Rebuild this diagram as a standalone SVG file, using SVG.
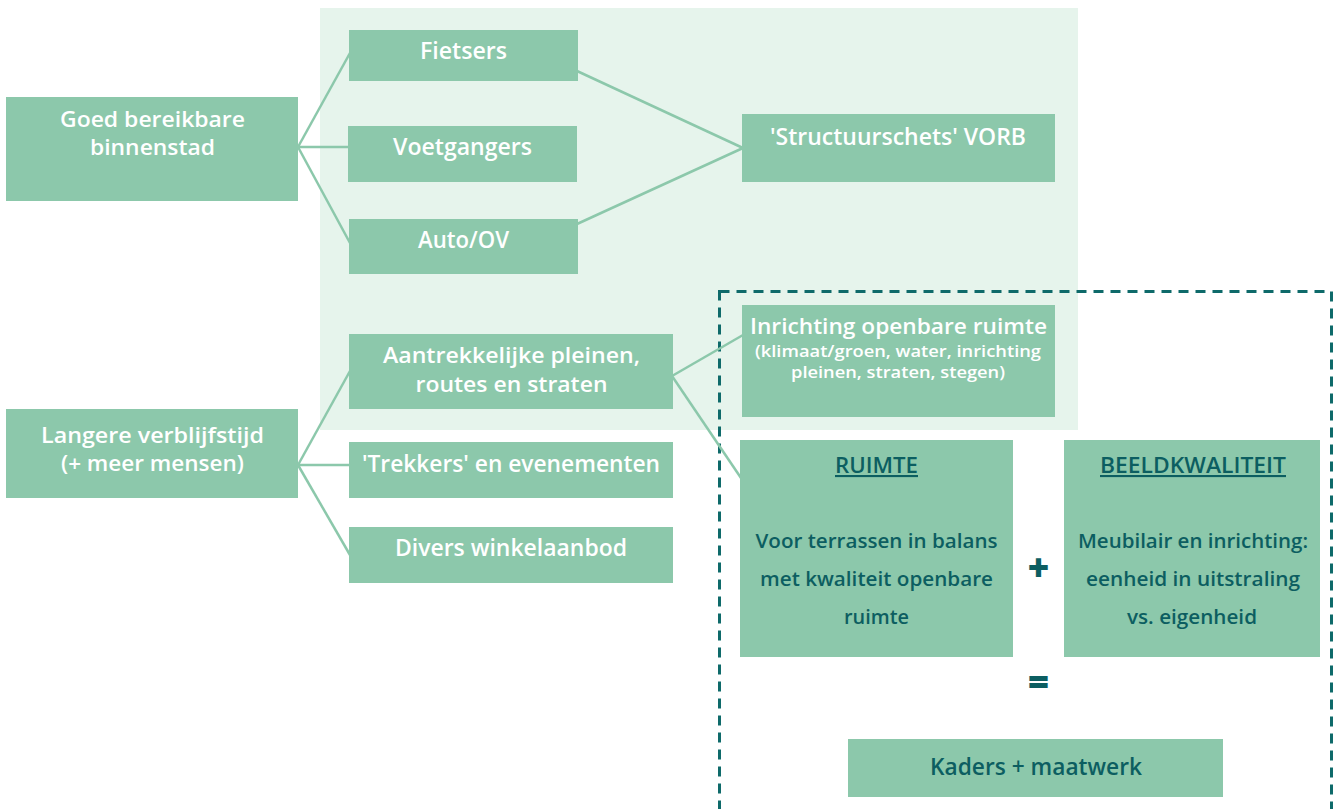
<svg xmlns="http://www.w3.org/2000/svg" width="1340" height="809" viewBox="0 0 1340 809">
<style>
.box{fill:#8cc8ab}
.t{font-family:"Open Sans","Noto Sans",sans-serif;font-weight:600;text-anchor:middle}
.w{fill:#ffffff}
.d{fill:#0c5e61}
.op{stroke:#0c5e61;stroke-width:2.2}
.c{stroke:#8cc8ab;stroke-width:2.5;fill:none}
</style>
<rect x="0" y="0" width="1340" height="809" fill="#ffffff"/>
<rect x="320" y="8" width="758" height="422" fill="#e6f4ec"/>
<rect x="719.5" y="291.5" width="612" height="540" fill="none" stroke="#0e6a6a" stroke-width="3" stroke-dasharray="10 7"/>
<g id="connectors">
<line class="c" x1="298" y1="147" x2="350" y2="53"/>
<line class="c" x1="298" y1="147" x2="350" y2="147"/>
<line class="c" x1="298" y1="147" x2="350" y2="243"/>
<line class="c" x1="577" y1="71" x2="743" y2="148"/>
<line class="c" x1="577" y1="224" x2="743" y2="148"/>
<line class="c" x1="298" y1="465" x2="350" y2="371"/>
<line class="c" x1="298" y1="465" x2="350" y2="465"/>
<line class="c" x1="298" y1="465" x2="350" y2="555"/>
<line class="c" x1="672" y1="376" x2="743" y2="335"/>
<line class="c" x1="672" y1="376" x2="741" y2="478"/>
</g>
<g id="goed">
<rect class="box" x="6" y="97" width="292" height="104"/>
<text class="t w" font-size="22" x="152.5" y="127" textLength="185" lengthAdjust="spacingAndGlyphs">Goed bereikbare</text>
<text class="t w" font-size="22" x="152.5" y="155" textLength="125" lengthAdjust="spacingAndGlyphs">binnenstad</text>
</g>
<g id="fietsers">
<rect class="box" x="349" y="30" width="229" height="51"/>
<text class="t w" font-size="23" x="463.5" y="59" textLength="87" lengthAdjust="spacingAndGlyphs">Fietsers</text>
</g>
<g id="voetgangers">
<rect class="box" x="348" y="126" width="229" height="56"/>
<text class="t w" font-size="23" x="462.5" y="155" textLength="139" lengthAdjust="spacingAndGlyphs">Voetgangers</text>
</g>
<g id="auto">
<rect class="box" x="349" y="219" width="229" height="55"/>
<text class="t w" font-size="23" x="463.5" y="248" textLength="91" lengthAdjust="spacingAndGlyphs">Auto/OV</text>
</g>
<g id="structuurschets">
<rect class="box" x="742" y="114" width="313" height="68"/>
<text class="t w" font-size="23" x="898" y="145" textLength="256" lengthAdjust="spacingAndGlyphs">'Structuurschets' VORB</text>
</g>
<g id="langere">
<rect class="box" x="6" y="409" width="292" height="89"/>
<text class="t w" font-size="22" x="152.5" y="443" textLength="223" lengthAdjust="spacingAndGlyphs">Langere verblijfstijd</text>
<text class="t w" font-size="22" x="152.5" y="471" textLength="183" lengthAdjust="spacingAndGlyphs">(+ meer mensen)</text>
</g>
<g id="aantrekkelijke">
<rect class="box" x="349" y="334" width="324" height="75"/>
<text class="t w" font-size="22" x="511.5" y="363" textLength="257" lengthAdjust="spacingAndGlyphs">Aantrekkelijke pleinen,</text>
<text class="t w" font-size="22" x="511.5" y="392" textLength="192" lengthAdjust="spacingAndGlyphs">routes en straten</text>
</g>
<g id="trekkers">
<rect class="box" x="349" y="442" width="324" height="56"/>
<text class="t w" font-size="23" x="511" y="472" textLength="298" lengthAdjust="spacingAndGlyphs">'Trekkers' en evenementen</text>
</g>
<g id="divers">
<rect class="box" x="349" y="527" width="324" height="56"/>
<text class="t w" font-size="23" x="511" y="556" textLength="232" lengthAdjust="spacingAndGlyphs">Divers winkelaanbod</text>
</g>
<g id="inrichting">
<rect class="box" x="742" y="305" width="313" height="112"/>
<text class="t w" font-size="22" x="898.5" y="334" textLength="297" lengthAdjust="spacingAndGlyphs">Inrichting openbare ruimte</text>
<text class="t w" font-size="17" x="898" y="357" textLength="286" lengthAdjust="spacingAndGlyphs">(klimaat/groen, water, inrichting</text>
<text class="t w" font-size="17" x="898" y="378" textLength="214" lengthAdjust="spacingAndGlyphs">pleinen, straten, stegen)</text>
</g>
<g id="ruimte">
<rect class="box" x="740" y="440" width="273" height="217"/>
<text class="t d" font-size="21" x="876.5" y="473" textLength="83" lengthAdjust="spacingAndGlyphs" text-decoration="underline">RUIMTE</text>
<text class="t d" font-size="20" x="876.5" y="548" textLength="242" lengthAdjust="spacingAndGlyphs">Voor terrassen in balans</text>
<text class="t d" font-size="20" x="876.5" y="586" textLength="233" lengthAdjust="spacingAndGlyphs">met kwaliteit openbare</text>
<text class="t d" font-size="20" x="876.5" y="624" textLength="65" lengthAdjust="spacingAndGlyphs">ruimte</text>
</g>
<g id="beeldkwaliteit">
<rect class="box" x="1064" y="440" width="256" height="217"/>
<text class="t d" font-size="21" x="1193" y="473" textLength="186" lengthAdjust="spacingAndGlyphs" text-decoration="underline">BEELDKWALITEIT</text>
<text class="t d" font-size="20" x="1193" y="548" textLength="230" lengthAdjust="spacingAndGlyphs">Meubilair en inrichting:</text>
<text class="t d" font-size="20" x="1193" y="586" textLength="214" lengthAdjust="spacingAndGlyphs">eenheid in uitstraling</text>
<text class="t d" font-size="20" x="1192" y="624" textLength="130" lengthAdjust="spacingAndGlyphs">vs. eigenheid</text>
</g>
<g id="operators">
<text class="t d op" font-size="34" font-weight="800" x="1038.5" y="580">+</text>
<text class="t d op" font-size="34" font-weight="800" x="1038.5" y="694">=</text>
</g>
<g id="kaders">
<rect class="box" x="848" y="739" width="375" height="58"/>
<text class="t d" font-size="23" x="1036" y="775" textLength="212" lengthAdjust="spacingAndGlyphs">Kaders + maatwerk</text>
</g>
</svg>
